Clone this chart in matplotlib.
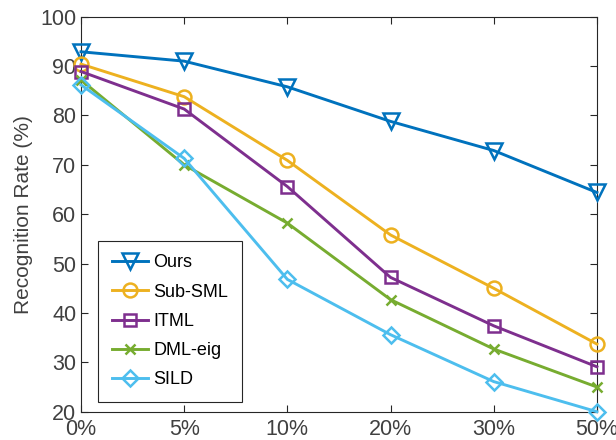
import numpy as np
import matplotlib.pyplot as plt

plt.rcParams['font.family'] = ['Liberation Sans', 'DejaVu Sans']

# Data
noise_levels = ['0%', '5%', '10%', '20%', '30%', '50%']
ours = [92.9, 91.0, 85.8, 78.8, 72.9, 64.4]
sub_sml = [90.4, 83.8, 70.9, 55.8, 45.0, 33.7]
itml = [88.9, 81.3, 65.6, 47.2, 37.4, 29.1]
dml_eig = [87.2, 70.0, 58.2, 42.7, 32.7, 25.0]
sild = [86.2, 71.3, 46.8, 35.6, 26.1, 20.0]

series = [
    ('Ours', ours, '#0072BD', 'v', 11),
    ('Sub-SML', sub_sml, '#EDB120', 'o', 10),
    ('ITML', itml, '#7E2F8E', 's', 8.5),
    ('DML-eig', dml_eig, '#77AC30', 'x', 7),
    ('SILD', sild, '#4DBEEE', 'D', 8.5),
]

fig = plt.figure(figsize=(6.16, 4.4), dpi=100)
ax = fig.add_axes([0.1315, 0.0643, 0.8375, 0.8977])

x = np.arange(len(noise_levels))
for name, vals, col, mk, ms in series:
    ax.plot(x, vals, color=col, lw=2.1, marker=mk, markersize=ms,
            markerfacecolor='none', markeredgecolor=col, markeredgewidth=1.8,
            label=name, clip_on=False, zorder=3)

ax.set_xlim(0, len(noise_levels) - 1)
ax.set_ylim(20, 100)
ax.set_xticks(x)
ax.set_xticklabels(noise_levels)
ax.set_yticks(np.arange(20, 101, 10))
ax.set_ylabel('Recognition Rate (%)', fontsize=15, color='#404040', labelpad=5)

ax.tick_params(direction='in', length=5, width=0.8, colors='#262626',
               labelsize=15.5, top=True, right=True, labelcolor='#404040')
ax.tick_params(axis='x', pad=5)
for sp in ax.spines.values():
    sp.set_color('#262626')
    sp.set_linewidth(0.8)

leg = ax.legend(loc='lower left', bbox_to_anchor=(0.033, 0.0245), fontsize=13,
                fancybox=False, framealpha=1, edgecolor='#262626',
                handlelength=2.0, handletextpad=0.3, borderpad=0.75,
                labelspacing=0.68, borderaxespad=0)
leg.get_frame().set_linewidth(0.8)

fig.savefig('out.png', dpi=100)
